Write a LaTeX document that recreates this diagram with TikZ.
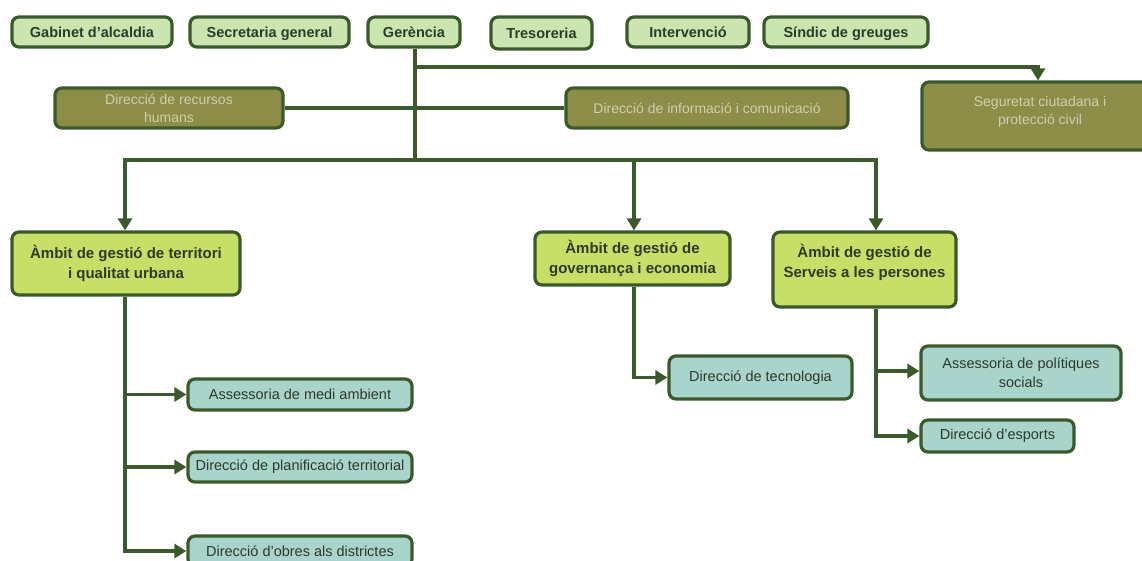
\documentclass[tikz,border=0pt]{standalone}
\usepackage{fontspec}
\setmainfont{Liberation Sans}
\usetikzlibrary{arrows.meta}
\definecolor{edge}{HTML}{3B5A2C}
\definecolor{topfill}{HTML}{CBE5B0}
\definecolor{olivefill}{HTML}{8C8D46}
\definecolor{olivetext}{HTML}{D2CEB0}
\definecolor{ambfill}{HTML}{C7DE67}
\definecolor{tealfill}{HTML}{A8D4CB}
\definecolor{txt}{HTML}{2E3A2A}
\begin{document}
\begin{tikzpicture}[x=1pt,y=-1pt,
  box/.style={draw=edge,line width=3.2pt,rounded corners=7pt,inner sep=0pt,align=center,text=txt},
  topbox/.style={box,fill=topfill,font=\bfseries\fontsize{14.5}{18}\selectfont,minimum height=30,text height=12pt,text depth=1.5pt},
  olivebox/.style={box,fill=olivefill,text=olivetext,font=\fontsize{14}{18}\selectfont},
  ambbox/.style={box,fill=ambfill,font=\bfseries\fontsize{15}{20}\selectfont},
  tealbox/.style={box,fill=tealfill,font=\fontsize{14.5}{19}\selectfont},
  conn/.style={draw=edge,line width=3.2pt},
  arr/.style={conn,-{Triangle[width=14pt,length=12pt]}}]
\useasboundingbox (0,0) rectangle (1142,560);
\fill[white] (0,0) rectangle (1142,560);
% top row
\node[topbox,minimum width=160] (gab) at (92,32) {Gabinet d'alcaldia};
\node[topbox,minimum width=159] (sec) at (269.5,32) {Secretaria general};
\node[topbox,minimum width=92] (ger) at (414,32) {Gerència};
\node[topbox,minimum width=101,minimum height=32] (tre) at (541.5,33) {Tresoreria};
\node[topbox,minimum width=122] (int) at (688,32) {Intervenció};
\node[topbox,minimum width=164] (sin) at (846,32) {Síndic de greuges};
% second row
\node[olivebox,minimum width=228,minimum height=40] (rh) at (169,108) {Direcció de recursos\\humans};
\node[olivebox,minimum width=282,minimum height=40] (inf) at (707,108) {Direcció de informació i comunicació};
\node[olivebox,minimum width=228,minimum height=68] (seg) at (1036,116) {};
\node[olivebox,draw=none,fill=none,anchor=center] (segt) at (1040,112) {Seguretat ciutadana i\\protecció civil};
% ambits
\node[ambbox,minimum width=228,minimum height=63] (amb1) at (126,263.5) {Àmbit de gestió de territori\\i qualitat urbana};
\node[ambbox,minimum width=195,minimum height=53] (amb2) at (632.5,258.5) {Àmbit de gestió de\\governança i economia};
\node[ambbox,minimum width=183,minimum height=75] (amb3) at (864.5,269.5) {};
\node[ambbox,draw=none,fill=none] (amb3t) at (864.5,262) {Àmbit de gestió de\\Serveis a les persones};
% teal boxes
\node[tealbox,minimum width=224,minimum height=31] (tma) at (300,394.5) {Assessoria de medi ambient};
\node[tealbox,minimum width=224,minimum height=30] (tpl) at (300,467) {Direcció de planificació territorial};
\node[tealbox,minimum width=224,minimum height=30] (tob) at (300,551) {Direcció d'obres als districtes};
\node[tealbox,minimum width=183,minimum height=43] (tte) at (760.5,377.5) {Direcció de tecnologia};
\node[tealbox,minimum width=200,minimum height=54] (tps) at (1021,373) {Assessoria de polítiques\\socials};
\node[tealbox,minimum width=153,minimum height=32] (tes) at (997.5,436) {Direcció d'esports};
% connectors
\coordinate (j1) at (415,67);
\coordinate (j2) at (415,160);
\draw[conn] (ger.south -| j1) -- (j2);
\draw[arr] (j1) -| ([xshift=2pt]seg.north);
\draw[conn] (rh.east) -- (inf.west);
\draw[arr] (j2) -| ([xshift=-1pt]amb1.north);
\draw[arr] (j2) -| ([xshift=1.5pt]amb2.north);
\draw[arr] (j2) -| ([xshift=11.5pt]amb3.north);
\draw[arr] ([xshift=-1pt]amb1.south) |- (tma.west);
\draw[arr] ([xshift=-1pt]amb1.south) |- (tpl.west);
\draw[arr] ([xshift=-1pt]amb1.south) |- (tob.west);
\draw[arr] ([xshift=1.5pt]amb2.south) |- (tte.west);
\draw[arr] ([xshift=11.5pt]amb3.south) |- ([yshift=2pt]tps.west);
\draw[arr] ([xshift=11.5pt]amb3.south) |- (tes.west);
\end{tikzpicture}
\end{document}
